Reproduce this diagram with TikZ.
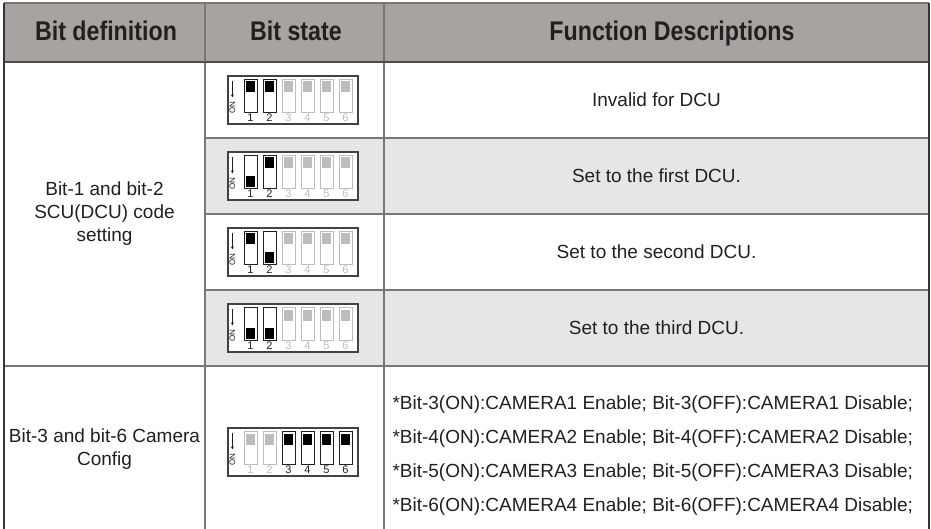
\documentclass[tikz,border=0pt]{standalone}
\usepackage{fontspec}
\setmainfont{Liberation Sans}
\newfontfamily\headfont[FakeStretch=0.86]{Liberation Sans}
\usetikzlibrary{arrows.meta}

\definecolor{headgray}{HTML}{A8A3A0}
\definecolor{rowgray}{HTML}{E6E6E8}
\definecolor{rulegray}{HTML}{777777}
\definecolor{ink}{HTML}{231F20}
\definecolor{offgray}{HTML}{BDBDBD}

% DIP switch: name, centre y, states (0 off, 1 on up, 2 on down)
\newcommand{\dipbox}[3]{%
\node[dipframe] (#1) at (293,#2) {};
\draw[-{Stealth[length=3pt,width=3pt]},ink,line width=0.6pt]
  ([shift={(5,6)}]#1.north west) -- ([shift={(5,22)}]#1.north west);
\node[rotate=90,font=\fontsize{8}{8}\selectfont,text=ink]
  at ([shift={(5,32)}]#1.north west) {ON};
\foreach \s [count=\i] in {#3} {
  \pgfmathsetmacro\sx{225+19*\i}
  \ifnum\s=0 \def\swc{offgray}\else\def\swc{ink}\fi
  \ifnum\s=1 \def\sqc{black}\else\def\sqc{offgray}\fi
  \draw[draw=\swc,line width=1pt] (\sx,#2-20.5) rectangle (\sx+13,#2+12.5);
  \ifnum\s=2
    \fill[black] (\sx+2,#2) rectangle (\sx+11,#2+11);
  \else
    \fill[\sqc] (\sx+2,#2-18.5) rectangle (\sx+11,#2-7.5);
  \fi
  \node[digit,text=\swc] at (\sx+6.5,#2+18) {\i};
}}

\begin{document}
\begin{tikzpicture}[x=1pt,y=-1pt,
  rule/.style={draw=rulegray,line width=1.4pt},
  edge/.style={draw=ink!90,line width=2pt},
  head/.style={font=\headfont\bfseries\fontsize{27}{27}\selectfont,text=ink,anchor=base},
  body/.style={font=\fontsize{19}{23}\selectfont,text=ink,align=center},
  dipframe/.style={draw=ink!85,line width=1.2pt,fill=white,
    minimum width=130pt,minimum height=48pt,inner sep=0pt},
  digit/.style={font=\fontsize{11}{11}\selectfont,inner sep=0pt}]
\useasboundingbox (0,0) rectangle (931,529);

\fill[headgray] (4,3) rectangle (929,62);
\fill[rowgray] (205,138) rectangle (929,214);
\fill[rowgray] (205,290) rectangle (929,366);

\draw[rule] (4,3) -- (929,3);
\draw[rule] (205,138) -- (929,138) (205,214) -- (929,214) (205,290) -- (929,290);
\draw[rule] (4,366) -- (929,366);
\draw[rule] (205,3) -- (205,529) (384,3) -- (384,529);
\draw[draw=ink!80,line width=2pt] (4,62) -- (929,62);
\draw[edge] (4,3) -- (4,529) (929,3) -- (929,529);

\node[head] (hdef) at (106,41) {Bit definition};
\node[head] (hstate) at (296,41) {Bit state};
\node[head] (hfunc) at (672,41) {Function Descriptions};

\node[body] (scu) at (104.5,214) {Bit-1 and bit-2\\SCU(DCU) code\\setting};
\node[body] (cam) at (104.5,449) {Bit-3 and bit-6 Camera\\Config};

\dipbox{dipa}{100}{1,1,0,0,0,0}
\dipbox{dipb}{176}{2,1,0,0,0,0}
\dipbox{dipc}{252}{1,2,0,0,0,0}
\dipbox{dipd}{328}{2,2,0,0,0,0}
\dipbox{dipe}{452}{0,0,1,1,1,1}

\node[body] (fa) at (656.5,100) {Invalid for DCU};
\node[body] (fb) at (656.5,176) {Set to the first DCU.};
\node[body] (fc) at (656.5,252) {Set to the second DCU.};
\node[body] (fd) at (656.5,328) {Set to the third DCU.};
\node[body,font=\fontsize{19}{34}\selectfont,align=left,anchor=west] (fe) at (389,456)
  {*Bit-3(ON):CAMERA1 Enable; Bit-3(OFF):CAMERA1 Disable;\\
   *Bit-4(ON):CAMERA2 Enable; Bit-4(OFF):CAMERA2 Disable;\\
   *Bit-5(ON):CAMERA3 Enable; Bit-5(OFF):CAMERA3 Disable;\\
   *Bit-6(ON):CAMERA4 Enable; Bit-6(OFF):CAMERA4 Disable;};
\end{tikzpicture}
\end{document}
